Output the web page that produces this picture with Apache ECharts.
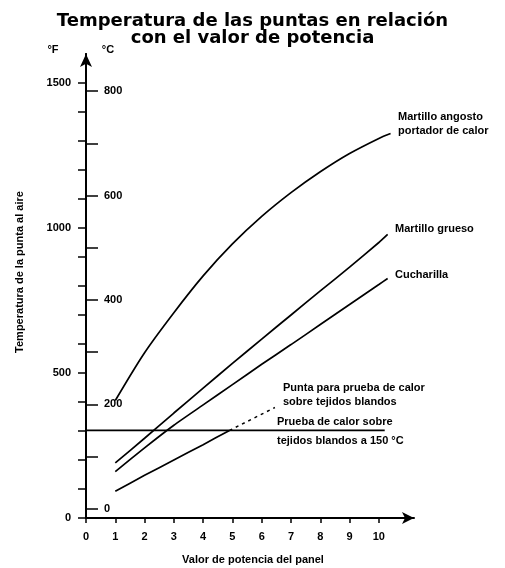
<!DOCTYPE html>
<html><head><meta charset="utf-8">
<script src="https://cdn.jsdelivr.net/npm/echarts@6/dist/echarts.min.js"></script>
<style>html,body{margin:0;padding:0;background:#fff}#c{width:505px;height:568px}</style>
</head><body><div id="c"></div>
<script>
// ---- data (°F on primary axis, power level on x) ----
const angostoX = [1, 2, 3, 4, 5, 6, 7, 8, 9, 10, 10.4];
const angostoF = [405, 570, 708, 835, 945, 1040, 1122, 1194, 1257, 1309, 1326];
const gruesoX = [1, 2, 3, 4, 5, 6, 7, 8, 9, 10, 10.3];
const gruesoF = [190, 275, 362, 448, 533, 617, 700, 783, 865, 950, 978];
const cucharillaX = [1, 2, 3, 4, 5, 6, 7, 8, 9, 10, 10.3];
const cucharillaF = [160, 242, 320, 390, 460, 530, 598, 667, 736, 805, 826];
const puntaX = [1, 2, 3, 4, 4.9];
const puntaF = [92, 147, 200, 253, 302];
const puntaDashX = [4.9, 6.45];
const puntaDashF = [302, 381];
const softTissueX = [0, 10.2];
const softTissueF = [302, 302];
const xTicks = [0, 1, 2, 3, 4, 5, 6, 7, 8, 9, 10];
const fTicks = [0, 100, 200, 300, 400, 500, 600, 700, 800, 900, 1000, 1100, 1200, 1300, 1400, 1500];
const fLabels = [0, 500, 1000, 1500];
const cTicks = [0, 100, 200, 300, 400, 500, 600, 700, 800];
const cLabels = [0, 200, 400, 600, 800];
const titleText = 'Temperatura de las puntas en relación\ncon el valor de potencia';
const xName = 'Valor de potencia del panel';
const yName = 'Temperatura de la punta al aire';

const pairs = (xs, ys) => xs.map((x, i) => [x, ys[i]]);
const F = 'Liberation Sans, Arial, sans-serif';
const blk = '#000';
const plain = v => String(v);
const lineSeries = (data, smooth, extra) => Object.assign({
  type: 'line', data, symbol: 'none', smooth, silent: true,
  lineStyle: { color: blk, width: 1.7 }, xAxisIndex: 0, yAxisIndex: 0
}, extra || {});
const txt = (text, x, y, opts) => ({
  type: 'text', x, y, silent: true,
  style: Object.assign({ text, fill: blk, fontFamily: F, fontSize: 11, fontWeight: 'bold',
    align: 'left', verticalAlign: 'middle' }, opts || {})
});

const chart = echarts.init(document.getElementById('c'), null, { renderer: 'canvas' });
const yTitle = txt(yName, 20, 272, { align: 'center' });
yTitle.rotation = Math.PI / 2;
chart.setOption({
  animation: false,
  backgroundColor: '#fff',
  title: {
    text: titleText, left: 'center', top: 8,
    textStyle: { fontFamily: 'DejaVu Sans', fontWeight: 'bold', fontSize: 18, lineHeight: 17, color: blk }
  },
  grid: { left: 86, right: 91, top: 54, bottom: 50 },
  xAxis: {
    type: 'value', min: 0, max: 11.2,
    axisLine: { show: true, symbol: ['none', 'arrow'], symbolSize: [9, 12], lineStyle: { color: blk, width: 2 } },
    axisTick: { show: true, customValues: xTicks, length: 5, lineStyle: { color: blk, width: 1.5 } },
    axisLabel: { customValues: xTicks, formatter: plain, color: blk, fontSize: 11, fontWeight: 'bold', fontFamily: F, margin: 13 },
    splitLine: { show: false }
  },
  yAxis: [{
    type: 'value', min: 0, max: 1600, position: 'left',
    axisLine: { show: true, symbol: ['none', 'arrow'], symbolSize: [9, 13], lineStyle: { color: blk, width: 2 } },
    axisTick: { show: true, customValues: fTicks, length: 8, lineStyle: { color: blk, width: 1.5 } },
    axisLabel: { customValues: fLabels, formatter: plain, color: blk, fontSize: 11, fontWeight: 'bold', fontFamily: F, margin: 15 },
    splitLine: { show: false }
  }, {
    type: 'value', min: -160 / 9, max: 7840 / 9, position: 'left',
    axisLine: { show: true, lineStyle: { color: blk, width: 2 } },
    axisTick: { show: true, inside: true, customValues: cTicks, length: 12, lineStyle: { color: blk, width: 1.5 } },
    axisLabel: { inside: true, customValues: cLabels, formatter: plain, color: blk, fontSize: 11, fontWeight: 'bold', fontFamily: F, margin: 18 },
    splitLine: { show: false }
  }],
  series: [
    lineSeries(pairs(angostoX, angostoF), 0.3),
    lineSeries(pairs(gruesoX, gruesoF), 0.2),
    lineSeries(pairs(cucharillaX, cucharillaF), 0.2),
    lineSeries(pairs(puntaX, puntaF), 0.2),
    lineSeries(pairs(puntaDashX, puntaDashF), false, { lineStyle: { color: blk, width: 1.5, type: [3, 4] } }),
    lineSeries(pairs(softTissueX, softTissueF), false, { lineStyle: { color: blk, width: 1.6 } })
  ],
  graphic: [
    txt('°F', 53, 50, { align: 'center' }),
    txt('°C', 108, 50, { align: 'center' }),
    yTitle,
    txt(xName, 253, 560, { align: 'center' }),
    txt('Martillo angosto', 398, 117),
    txt('portador de calor', 398, 131),
    txt('Martillo grueso', 395, 229),
    txt('Cucharilla', 395, 275),
    txt('Punta para prueba de calor', 283, 388),
    txt('sobre tejidos blandos', 283, 402),
    txt('Prueba de calor sobre', 277, 422),
    txt('tejidos blandos a 150 °C', 277, 441)
  ]
});
</script></body></html>
